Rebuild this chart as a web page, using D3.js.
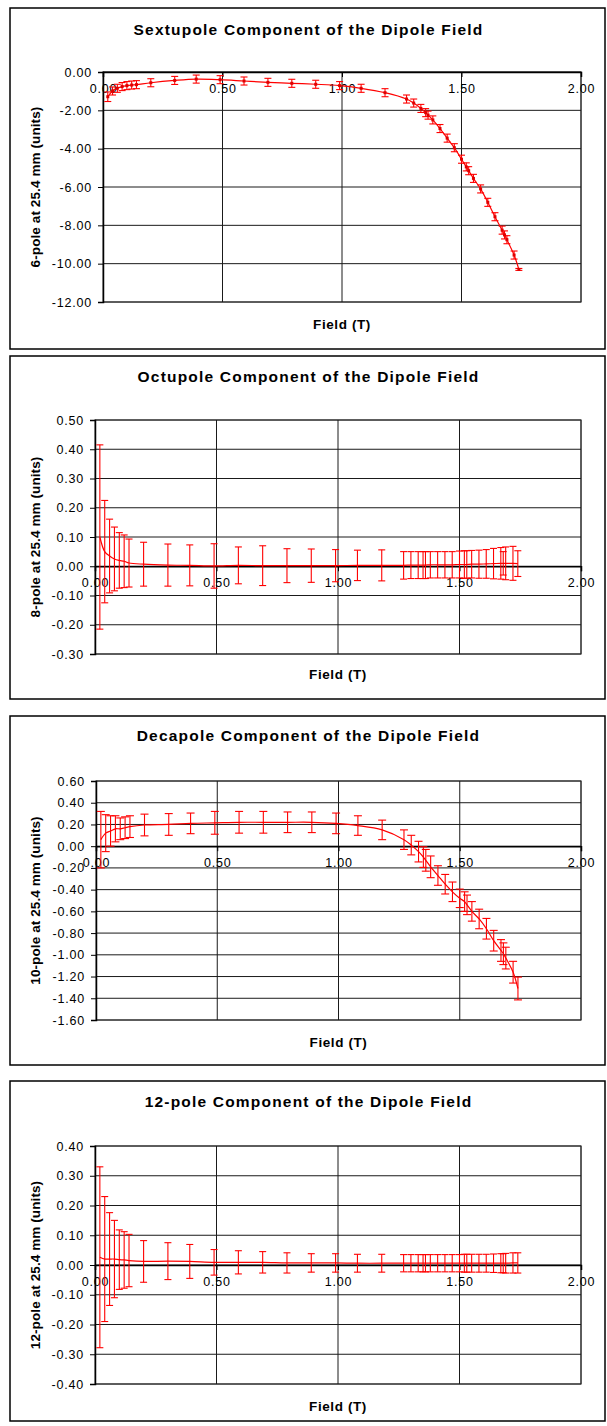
<!DOCTYPE html>
<html lang="en">
<head>
<meta charset="utf-8">
<script src="https://cdn.jsdelivr.net/npm/d3@7/dist/d3.min.js"></script>
<style>
  body { margin: 0; background: #fff; }
  svg { display: block; font-family: "Liberation Sans", Arial, sans-serif; }
</style>
</head>
<body>
<script>
// field values (T) shared by all four measurements
var field = [0.02, 0.04, 0.06, 0.08, 0.10, 0.12, 0.14, 0.20, 0.30, 0.39,
             0.49, 0.59, 0.69, 0.79, 0.89, 0.99, 1.08, 1.18, 1.27, 1.30,
             1.33, 1.35, 1.36, 1.38, 1.41, 1.44, 1.47, 1.50, 1.52, 1.53,
             1.55, 1.58, 1.61, 1.64, 1.67, 1.68, 1.69, 1.72, 1.74];

// 6-pole
var sextupole = [-1.29, -0.99, -0.85, -0.76, -0.71, -0.68, -0.66, -0.56, -0.44, -0.37,
                 -0.40, -0.47, -0.54, -0.59, -0.64, -0.71, -0.85, -1.08, -1.41, -1.62,
                 -1.90, -2.12, -2.25, -2.50, -2.95, -3.45, -3.95, -4.55, -4.95, -5.15,
                 -5.55, -6.10, -6.80, -7.55, -8.25, -8.50, -8.75, -9.55, -10.30];
var sextupoleErr = [0.25, 0.21, 0.21, 0.21, 0.21, 0.21, 0.21, 0.21, 0.21, 0.21,
                    0.21, 0.21, 0.21, 0.21, 0.21, 0.21, 0.21, 0.21, 0.21, 0.21,
                    0.21, 0.21, 0.21, 0.21, 0.21, 0.21, 0.21, 0.21, 0.21, 0.21,
                    0.21, 0.21, 0.21, 0.21, 0.21, 0.21, 0.21, 0.21, 0.05];

// 8-pole
var octupole = [0.100, 0.050, 0.035, 0.025, 0.020, 0.017, 0.011, 0.007, 0.004, 0.003,
                0.001, 0.003, 0.002, 0.002, 0.002, 0.002, 0.003, 0.003, 0.003, 0.004,
                0.004, 0.004, 0.004, 0.005, 0.005, 0.005, 0.005, 0.006, 0.006, 0.006,
                0.007, 0.007, 0.008, 0.009, 0.010, 0.010, 0.010, 0.010, 0.009];
var octupoleErr = [0.315, 0.175, 0.126, 0.109, 0.095, 0.090, 0.082, 0.075, 0.072, 0.070,
                   0.076, 0.063, 0.068, 0.058, 0.057, 0.055, 0.052, 0.053, 0.047, 0.046,
                   0.046, 0.046, 0.046, 0.045, 0.045, 0.045, 0.045, 0.046, 0.047, 0.047,
                   0.047, 0.048, 0.049, 0.052, 0.054, 0.040, 0.056, 0.058, 0.044];

// 10-pole
var decapole = [0.06, 0.12, 0.14, 0.16, 0.16, 0.17, 0.18, 0.195, 0.20, 0.21,
                0.215, 0.22, 0.22, 0.22, 0.22, 0.21, 0.19, 0.15, 0.06, 0.01,
                -0.05, -0.10, -0.13, -0.19, -0.27, -0.35, -0.42, -0.48, -0.51, -0.54,
                -0.60, -0.67, -0.76, -0.87, -0.96, -0.99, -1.03, -1.16, -1.31];
var decapoleErr = [0.26, 0.17, 0.14, 0.12, 0.10, 0.10, 0.10, 0.10, 0.10, 0.095,
                   0.105, 0.10, 0.10, 0.095, 0.095, 0.095, 0.09, 0.09, 0.09, 0.09,
                   0.095, 0.095, 0.10, 0.10, 0.09, 0.09, 0.09, 0.085, 0.09, 0.09,
                   0.09, 0.09, 0.095, 0.095, 0.10, 0.10, 0.10, 0.10, 0.105];

// 12-pole
var pole12 = [0.026, 0.020, 0.020, 0.020, 0.018, 0.017, 0.015, 0.012, 0.013, 0.012,
              0.009, 0.009, 0.009, 0.007, 0.007, 0.007, 0.006, 0.006, 0.006, 0.006,
              0.006, 0.006, 0.006, 0.006, 0.006, 0.006, 0.006, 0.006, 0.006, 0.006,
              0.006, 0.006, 0.006, 0.006, 0.006, 0.006, 0.006, 0.007, 0.007];
var pole12Err = [0.304, 0.210, 0.156, 0.130, 0.100, 0.095, 0.088, 0.070, 0.062, 0.057,
                 0.043, 0.039, 0.036, 0.034, 0.031, 0.031, 0.030, 0.030, 0.029, 0.029,
                 0.029, 0.029, 0.029, 0.029, 0.029, 0.029, 0.029, 0.029, 0.030, 0.030,
                 0.030, 0.030, 0.030, 0.031, 0.032, 0.032, 0.033, 0.034, 0.034];

// tick values
var xTicks = [0, 0.5, 1.0, 1.5, 2.0];
var yTicks6 = [0, -2, -4, -6, -8, -10, -12];
var yTicks8 = [0.5, 0.4, 0.3, 0.2, 0.1, 0, -0.1, -0.2, -0.3];
var yTicks10 = [0.6, 0.4, 0.2, 0, -0.2, -0.4, -0.6, -0.8, -1.0, -1.2, -1.4, -1.6];
var yTicks12 = [0.4, 0.3, 0.2, 0.1, 0, -0.1, -0.2, -0.3, -0.4];

var titles = ["Sextupole Component of the Dipole Field",
              "Octupole Component of the Dipole Field",
              "Decapole Component of the Dipole Field",
              "12-pole Component of the Dipole Field"];
var yTitles = ["6-pole at 25.4 mm (units)", "8-pole at 25.4 mm (units)",
               "10-pole at 25.4 mm (units)", "12-pole at 25.4 mm (units)"];

// layout of each panel (page pixels)
var panels = [
  {box: [10, 8, 605, 349], plot: [103, 72, 581, 302], titleY: 31, xTitleY: 325,
   vals: sextupole, errs: sextupoleErr, ticks: yTicks6, cap: 7, marker: true},
  {box: [10, 356, 605, 699], plot: [95, 420, 581, 654], titleY: 378, xTitleY: 675,
   vals: octupole, errs: octupoleErr, ticks: yTicks8, cap: 7, marker: false},
  {box: [10, 716, 605, 1065], plot: [96, 781, 581, 1020], titleY: 737, xTitleY: 1043,
   vals: decapole, errs: decapoleErr, ticks: yTicks10, cap: 8, marker: false},
  {box: [10, 1081, 605, 1421], plot: [95, 1146, 581, 1384], titleY: 1103, xTitleY: 1407,
   vals: pole12, errs: pole12Err, ticks: yTicks12, cap: 7, marker: false}
];

var svg = d3.select("body").append("svg")
  .attr("width", 607)
  .attr("height", 1426);

var fmt = function (d) { return d.toFixed(2); };

panels.forEach(function (p, k) {
  var g = svg.append("g");

  // outer frame
  g.append("rect")
    .attr("x", p.box[0]).attr("y", p.box[1])
    .attr("width", p.box[2] - p.box[0]).attr("height", p.box[3] - p.box[1])
    .attr("fill", "#fff").attr("stroke", "#000").attr("stroke-width", 1.5);

  var x = d3.scaleLinear().domain([0, 2]).range([p.plot[0], p.plot[2]]);
  var y = d3.scaleLinear()
    .domain([d3.min(p.ticks), d3.max(p.ticks)])
    .range([p.plot[3], p.plot[1]]);

  // plot area frame (grey) and grid
  g.append("rect")
    .attr("x", p.plot[0]).attr("y", p.plot[1])
    .attr("width", p.plot[2] - p.plot[0]).attr("height", p.plot[3] - p.plot[1])
    .attr("fill", "none").attr("stroke", "#808080").attr("stroke-width", 1.5);

  g.selectAll(".hgrid").data(p.ticks).enter().append("line")
    .attr("x1", p.plot[0]).attr("x2", p.plot[2])
    .attr("y1", function (d) { return y(d); })
    .attr("y2", function (d) { return y(d); })
    .attr("stroke", "#1a1a1a").attr("stroke-width", 1);

  g.selectAll(".vgrid").data(xTicks.slice(1)).enter().append("line")
    .attr("y1", p.plot[1]).attr("y2", p.plot[3])
    .attr("x1", function (d) { return x(d); })
    .attr("x2", function (d) { return x(d); })
    .attr("stroke", "#1a1a1a").attr("stroke-width", 1);

  // y axis
  var yAxis = g.append("g")
    .attr("transform", "translate(" + p.plot[0] + ",0)")
    .call(d3.axisLeft(y).tickValues(p.ticks).tickFormat(fmt).tickSize(5).tickPadding(6));
  yAxis.select(".domain").attr("stroke", "#000").attr("stroke-width", 1.5);
  yAxis.selectAll(".tick line").attr("stroke", "#000");
  yAxis.selectAll("text")
    .attr("font-size", "12.5px").attr("letter-spacing", "0.8px")
    .attr("font-family", "Liberation Sans, Arial, sans-serif").attr("fill", "#000");

  // x axis crossing at zero
  var xAxis = g.append("g")
    .attr("transform", "translate(0," + y(0) + ")")
    .call(d3.axisBottom(x).tickValues(xTicks).tickFormat(fmt).tickSize(5).tickPadding(7));
  xAxis.select(".domain").attr("stroke", "#000").attr("stroke-width", 1.5);
  xAxis.selectAll(".tick line").attr("stroke", "#000");
  xAxis.selectAll("text")
    .attr("font-size", "12.5px").attr("letter-spacing", "0.8px")
    .attr("font-family", "Liberation Sans, Arial, sans-serif").attr("fill", "#000");

  // data
  var pts = field.map(function (f, i) { return {x: f, v: p.vals[i], e: p.errs[i]}; });

  var line = d3.line()
    .x(function (d) { return x(d.x); })
    .y(function (d) { return y(d.v); })
    .curve(d3.curveCatmullRom.alpha(0.5));

  g.append("path").datum(pts)
    .attr("d", line)
    .attr("fill", "none").attr("stroke", "#ff0000").attr("stroke-width", 1.2);

  var bars = g.selectAll(".err").data(pts).enter().append("g")
    .attr("stroke", "#ff0000").attr("stroke-width", 1.1);
  bars.append("line")
    .attr("x1", function (d) { return x(d.x); }).attr("x2", function (d) { return x(d.x); })
    .attr("y1", function (d) { return y(d.v + d.e); }).attr("y2", function (d) { return y(d.v - d.e); });
  bars.append("line")
    .attr("x1", function (d) { return x(d.x) - p.cap / 2; }).attr("x2", function (d) { return x(d.x) + p.cap / 2; })
    .attr("y1", function (d) { return y(d.v + d.e); }).attr("y2", function (d) { return y(d.v + d.e); });
  bars.append("line")
    .attr("x1", function (d) { return x(d.x) - p.cap / 2; }).attr("x2", function (d) { return x(d.x) + p.cap / 2; })
    .attr("y1", function (d) { return y(d.v - d.e); }).attr("y2", function (d) { return y(d.v - d.e); });

  if (p.marker) {
    g.selectAll(".mark").data(pts).enter().append("rect")
      .attr("x", function (d) { return x(d.x) - 1.5; })
      .attr("y", function (d) { return y(d.v) - 1.5; })
      .attr("width", 3).attr("height", 3)
      .attr("fill", "#e00000");
  }

  // titles
  g.append("text")
    .attr("x", (p.box[0] + p.box[2]) / 2 + 1).attr("y", p.titleY)
    .attr("text-anchor", "middle").attr("dominant-baseline", "middle")
    .attr("font-size", "15.5px").attr("font-weight", "bold").attr("letter-spacing", "1.2px")
    .text(titles[k]);

  g.append("text")
    .attr("x", (p.plot[0] + p.plot[2]) / 2).attr("y", p.xTitleY)
    .attr("text-anchor", "middle").attr("dominant-baseline", "middle")
    .attr("font-size", "13.5px").attr("font-weight", "bold").attr("letter-spacing", "0.6px")
    .text("Field (T)");

  g.append("text")
    .attr("transform", "translate(36," + (p.plot[1] + p.plot[3]) / 2 + ") rotate(-90)")
    .attr("text-anchor", "middle").attr("dominant-baseline", "middle")
    .attr("font-size", "13.5px").attr("font-weight", "bold").attr("letter-spacing", "0.1px")
    .text(yTitles[k]);
});
</script>
</body>
</html>
